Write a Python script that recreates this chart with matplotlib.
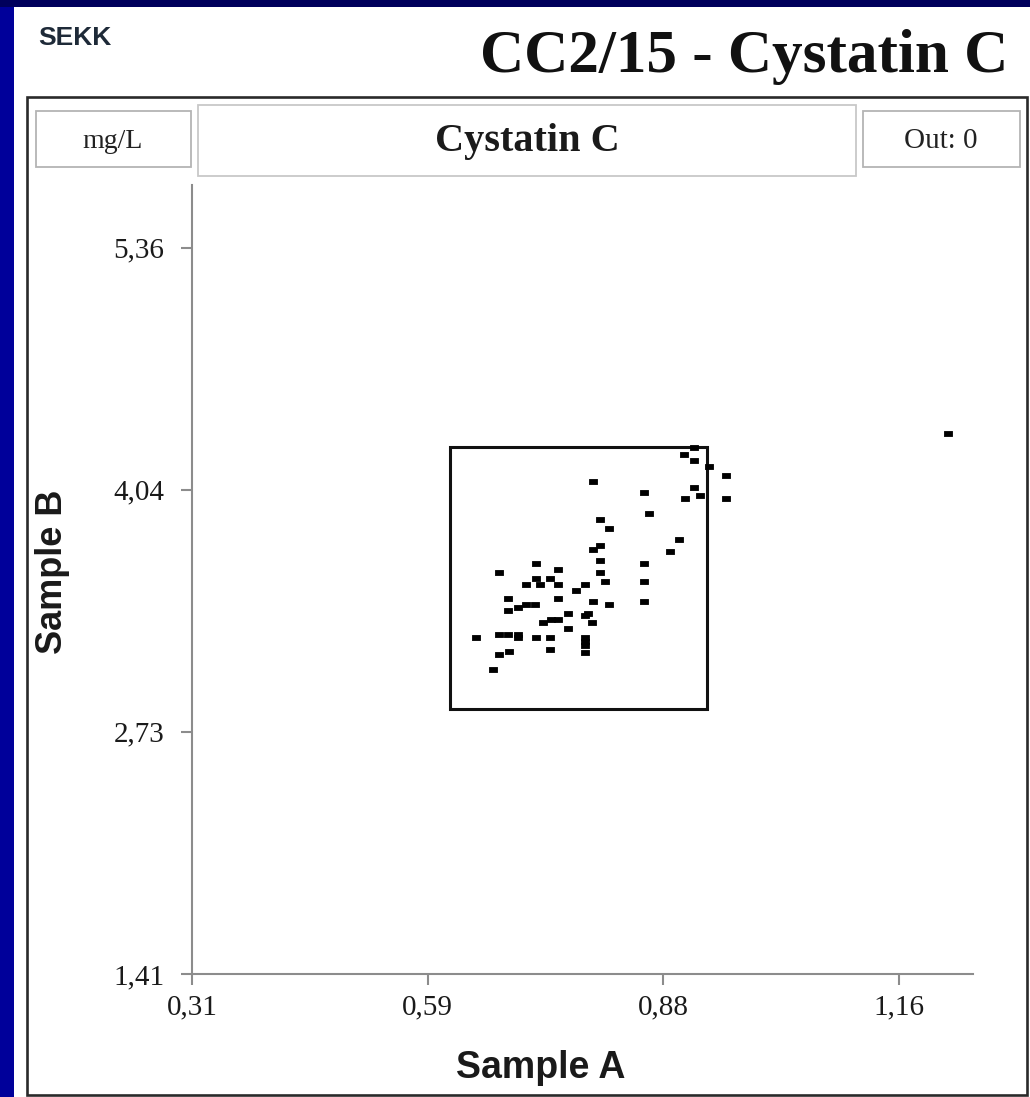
import matplotlib
matplotlib.use("Agg")
import matplotlib.pyplot as plt
from matplotlib.patches import Rectangle
from matplotlib.ticker import FixedLocator, FuncFormatter

# Results (Sample A vs Sample B, mg/L)
sample_a = [0.913, 0.902, 0.913, 0.931, 0.952, 0.792, 0.853, 0.913, 0.921, 0.903,
            0.952, 0.860, 0.801, 0.811, 0.895, 0.885, 0.801, 0.792, 0.801, 0.853,
            0.723, 0.679, 0.750, 0.801, 0.807, 0.853, 0.723, 0.740, 0.712, 0.728,
            0.750, 0.782, 0.772, 0.690, 0.750, 0.792, 0.811, 0.853, 0.690, 0.702,
            0.712, 0.722, 0.762, 0.782, 0.786, 0.732, 0.742, 0.750, 0.791, 0.762,
            0.651, 0.679, 0.690, 0.702, 0.702, 0.723, 0.740, 0.782, 0.782, 0.740,
            0.782, 0.679, 0.691, 0.672, 0.782, 1.219]
sample_b = [4.273, 4.237, 4.204, 4.173, 4.123, 4.092, 4.029, 4.059, 4.014, 3.996,
            3.996, 3.916, 3.884, 3.835, 3.773, 3.710, 3.741, 3.722, 3.661, 3.643,
            3.643, 3.595, 3.613, 3.595, 3.546, 3.546, 3.561, 3.564, 3.530, 3.530,
            3.530, 3.530, 3.498, 3.452, 3.452, 3.436, 3.420, 3.436, 3.389, 3.407,
            3.421, 3.421, 3.371, 3.362, 3.371, 3.322, 3.338, 3.338, 3.322, 3.293,
            3.244, 3.258, 3.258, 3.258, 3.240, 3.244, 3.244, 3.244, 3.220, 3.178,
            3.162, 3.148, 3.166, 3.068, 3.199, 4.349]

target_a = 0.7746
target_b = 3.562
limit = 0.20

x_ticks = [0.31, 0.5933, 0.8767, 1.16]
y_ticks = [1.41, 2.7267, 4.0433, 5.36]
x_range = (0.31, 1.249)
y_range = (1.41, 5.70)

title = "CC2/15 - Cystatin C"
analyte = "Cystatin C"
unit = "mg/L"
out_count = 0

W, H = 1030, 1097
fig = plt.figure(figsize=(W / 100, H / 100), dpi=100, facecolor="#00005c")


def px_rect(x0, y0, x1, y1, **kw):
    # rectangle given in pixel coords measured from the top-left corner
    r = Rectangle((x0 / W, 1 - y1 / H), (x1 - x0) / W, (y1 - y0) / H,
                  transform=fig.transFigure, zorder=-5, **kw)
    fig.add_artist(r)
    return r


# slide background: blue strip on the left, white panel
px_rect(0, 7, 14, H, facecolor="#00009a", edgecolor="none")
px_rect(14, 7, W, H, facecolor="white", edgecolor="none")
px_rect(27, 97, 1027, 1095, facecolor="none", edgecolor="#2a2a2a", linewidth=1.9)

# header boxes
px_rect(36, 111, 191, 167, facecolor="white", edgecolor="#b4b4b4", linewidth=1.3)
px_rect(198, 105, 856, 176, facecolor="white", edgecolor="#c8c8c8", linewidth=1.3)
px_rect(863, 111, 1020, 167, facecolor="white", edgecolor="#b4b4b4", linewidth=1.3)

serif = ["Liberation Serif", "DejaVu Serif"]
sans = ["Liberation Sans", "DejaVu Sans"]

fig.text(38 / W, 1 - 45 / H, "SEKK", family=sans, weight="bold", fontsize=19,
         color="#1e2a38", ha="left", va="baseline")
fig.text(1008 / W, 1 - 72 / H, title, family=serif, weight="bold", fontsize=44,
         color="#111111", ha="right", va="baseline")
fig.text(113 / W, 1 - 141 / H, unit, family=serif, fontsize=20, color="#222222",
         ha="center", va="center")
fig.text(527 / W, 1 - 142 / H, analyte, family=serif, weight="bold", fontsize=29,
         color="#1a1a1a", ha="center", va="center")
fig.text(941 / W, 1 - 141 / H, f"Out: {out_count}", family=serif, fontsize=21,
         color="#222222", ha="center", va="center")

# scatter area
ax = fig.add_axes([192 / W, 1 - 974 / H, (973 - 192) / W, (974 - 185) / H])
ax.set_zorder(2)
ax.set_facecolor("none")
ax.set_xlim(*x_range)
ax.set_ylim(*y_range)

for side in ("top", "right"):
    ax.spines[side].set_visible(False)
for side in ("left", "bottom"):
    ax.spines[side].set_color("#8c8c8c")
    ax.spines[side].set_linewidth(1.5)

comma = FuncFormatter(lambda v, pos: f"{v:.2f}".replace(".", ","))
ax.xaxis.set_major_locator(FixedLocator(x_ticks))
ax.yaxis.set_major_locator(FixedLocator(y_ticks))
ax.xaxis.set_major_formatter(comma)
ax.yaxis.set_major_formatter(comma)
ax.tick_params(axis="both", direction="out", length=8, width=1.5, color="#8c8c8c",
               labelsize=21, labelcolor="#1a1a1a")
ax.tick_params(axis="x", pad=7)
ax.tick_params(axis="y", pad=12)
for lab in ax.get_xticklabels() + ax.get_yticklabels():
    lab.set_family(serif)

# acceptance box around the target values
ax.add_patch(Rectangle((target_a * (1 - limit), target_b * (1 - limit)),
                       2 * limit * target_a, 2 * limit * target_b,
                       facecolor="none", edgecolor="#111111", linewidth=2.2))

dash = [(-1, -0.6), (1, -0.6), (1, 0.6), (-1, 0.6), (-1, -0.6)]
ax.plot(sample_a, sample_b, linestyle="none", marker=dash, markersize=6,
        color="black", markeredgewidth=0.6, clip_on=False)

ax.set_xlabel("Sample A", family=sans, weight="bold", fontsize=27, color="#1a1a1a",
              va="center")
ax.set_ylabel("Sample B", family=sans, weight="bold", fontsize=26, color="#1a1a1a",
              va="center")
ax.xaxis.set_label_coords((541 - 192) / 781, -(1068 - 974) / 789)
ax.yaxis.set_label_coords((53 - 192) / 781, (974 - 572) / 789)

fig.savefig("out.png", dpi=100, facecolor=fig.get_facecolor())
